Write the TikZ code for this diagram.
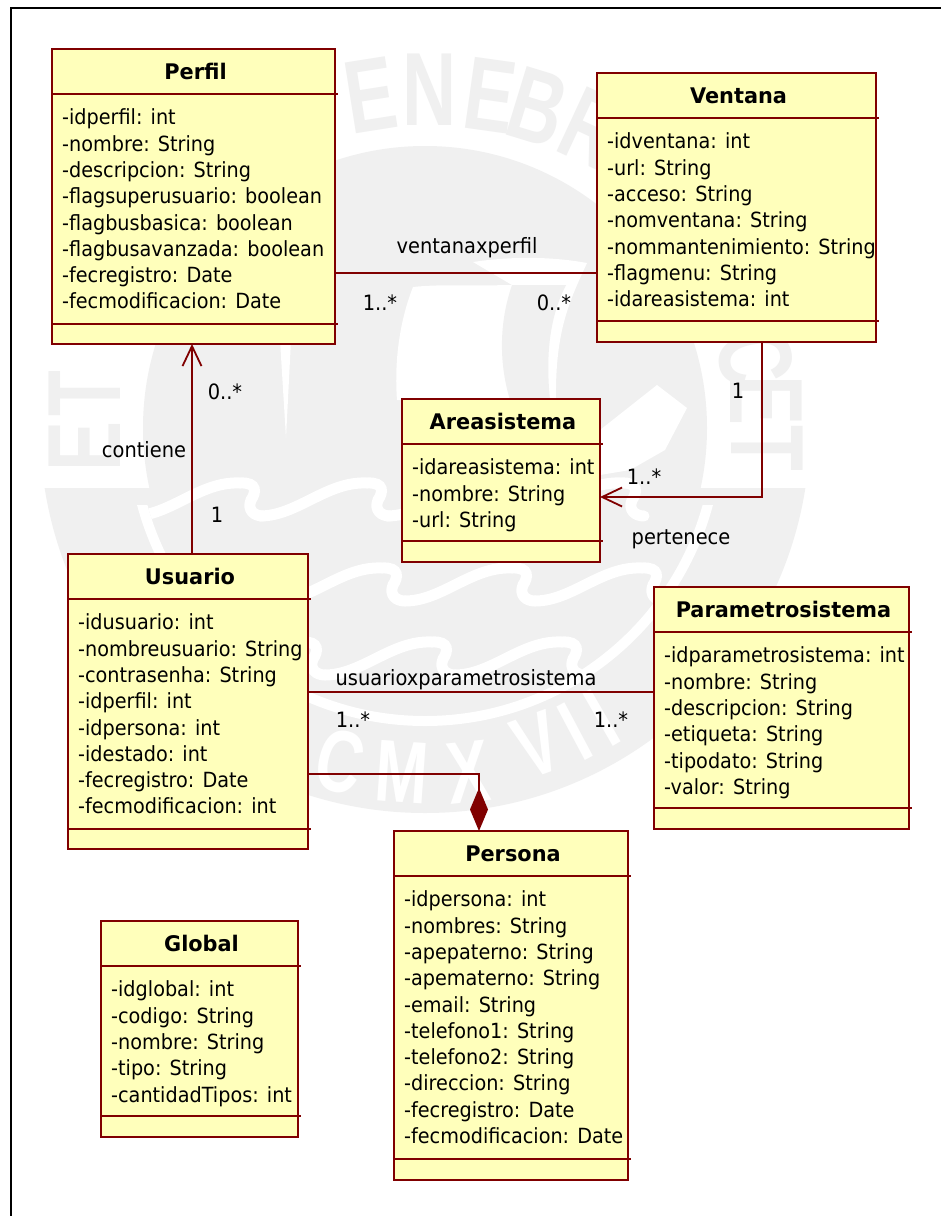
\documentclass[tikz,border=0pt]{standalone}
\usepackage{fontspec}
\setmainfont[FakeStretch=0.92,BoldFeatures={FakeStretch=0.97}]{DejaVu Sans}
\newfontfamily\wmfont[FakeStretch=0.72]{Liberation Sans}
\usetikzlibrary{arrows.meta,calc}
\definecolor{umlline}{HTML}{800000}
\definecolor{umlfill}{HTML}{FFFFBB}
\definecolor{wmgray}{HTML}{F0F0F0}
\tikzset{
  classbox/.style={draw=umlline,fill=umlfill,line width=1.8pt,inner sep=0pt,outer sep=0pt},
  classline/.style={draw=umlline,line width=1.8pt},
  classtitle/.style={font=\fontsize{21.5}{24}\selectfont\bfseries,inner sep=0pt,anchor=base},
  attr/.style={font=\fontsize{20.9}{24}\selectfont,inner sep=0pt,anchor=base west},
  lbl/.style={font=\fontsize{21.1}{24}\selectfont,inner sep=0pt,anchor=base},
  assoc/.style={draw=umlline,line width=1.8pt},
  openhead/.style={-{Straight Barb[length=20pt,width=19pt,line width=1.8pt]}},
  comphead/.style={-{Diamond[length=43pt,width=18pt,fill=umlline]}},
  wmo/.style={text=wmgray,font=\wmfont\bfseries\fontsize{104}{104}\selectfont,inner sep=0pt},
  wmi/.style={text=white,font=\wmfont\bfseries\fontsize{88}{88}\selectfont,inner sep=0pt},
  wave/.style={draw=white,line width=11pt,line cap=round}
}
% name x1 y1 x2 y2 sep1 sep2 title lines
\newcommand\umlclass[9]{%
  \node[classbox,minimum width={(#4-#2)*1pt},minimum height={(#5-#3)*1pt}] (#1) at ({(#2+#4)/2},{(#3+#5)/2}) {};
  \draw[classline] (#2,#6) -- ({#4+3},#6);
  \draw[classline] (#2,#7) -- ({#4+3},#7);
  \node[classtitle] (#1-title) at ({(#2+#4)/2+2},{#3+30}) {#8};
  \foreach \t [count=\i from 0] in {#9}{
    \node[attr] (#1-\i) at ({#2+10},{#6+30.8+\i*26.3}) {\t};
  }%
}
\begin{document}
\begin{tikzpicture}[x=1pt,y=-1pt]
\useasboundingbox (0,0) rectangle (941,1216);
\fill[white] (0,0) rectangle (941,1216);
% watermark
\coordinate (wmc) at (425,428);
\fill[wmgray] (wmc) circle[radius=282];
\begin{scope}
  \clip (0,488) rectangle (941,1216);
  \fill[wmgray] (wmc) circle[radius=385];
  \clip (0,505) rectangle (941,1216);
  \draw[white,line width=10pt] (wmc) circle[radius=293];
\end{scope}
\begin{scope}
  \clip (wmc) circle[radius=288];
  \foreach \cy/\xs in {483/{113,240,367,494,621},568/{122,252,382,512,642},642/{172,302,432,562,692}}{
    \foreach \cx in \xs {
      \draw[wave] ({\cx-107},{\cy+33}) .. controls ({\cx-70},{\cy+33}) and ({\cx-40},{\cy-2}) .. (\cx,\cy) .. controls ({\cx+18},{\cy-1}) and ({\cx+16},{\cy+10}) .. ({\cx+11},{\cy+17}) .. controls ({\cx+7},{\cy+27}) and ({\cx+14},{\cy+33}) .. ({\cx+23},{\cy+33});
    }
  }
\end{scope}
\fill[white] (473,262) .. controls (520,255) and (560,258) .. (587,263) .. controls (570,300) and (555,330) .. (556,400) -- (397,400) .. controls (394,360) and (400,320) .. (413,287) .. controls (440,284) and (470,286) .. (512,285) -- cycle;
\fill[wmgray] (512,285) .. controls (500,320) and (498,360) .. (510,400) -- (550,400) .. controls (546,360) and (548,320) .. (566,285) -- cycle;
\fill[white] (600,430) -- (657,385) -- (687,408) -- (665,450) -- (630,470) -- (600,475) -- cycle;
\fill[white] (280,340) -- (291,340) -- (286,438) -- cycle;
\foreach \px/\py/\r/\ch [count=\i] in {85/394/90/T,85/447/90/E,371/95/9/E,430/90/0/N,490/96/-8/E,538/107/-17/B,592/128/-25/R,755/358/-80/C,766/400/-90/E,767/448/-90/T}{
  \node[wmo,rotate=\r] (wm\i) at (\px,\py) {\ch};
}
\foreach \px/\py/\r/\ch [count=\i] in {340/762/-14/C,402/772/-4/M,468/772/6/X,537/745/20/V,575/732/28/I,602/718/30/I}{
  \node[wmi,rotate=\r] (wmb\i) at (\px,\py) {\ch};
}
% frame
\draw[black,line width=2pt] (11,1216) -- (11,8) -- (941,8);
% classes
\umlclass{perfil}{52}{49}{335}{344}{94}{324}{Perfil}{-idperfil: int,-nombre: String,-descripcion: String,-flagsuperusuario: boolean,-flagbusbasica: boolean,-flagbusavanzada: boolean,-fecregistro: Date,-fecmodificacion: Date}
\umlclass{ventana}{597}{73}{876}{342}{118}{321}{Ventana}{-idventana: int,-url: String,-acceso: String,-nomventana: String,-nommantenimiento: String,-flagmenu: String,-idareasistema: int}
\umlclass{area}{402}{399}{600}{562}{444}{541}{Areasistema}{-idareasistema: int,-nombre: String,-url: String}
\umlclass{usuario}{68}{554}{308}{849}{599}{829}{Usuario}{-idusuario: int,-nombreusuario: String,-contrasenha: String,-idperfil: int,-idpersona: int,-idestado: int,-fecregistro: Date,-fecmodificacion: int}
\umlclass{param}{654}{587}{909}{829}{632}{808}{Parametrosistema}{-idparametrosistema: int,-nombre: String,-descripcion: String,-etiqueta: String,-tipodato: String,-valor: String}
\umlclass{persona}{394}{831}{628}{1180}{876}{1159}{Persona}{-idpersona: int,-nombres: String,-apepaterno: String,-apematerno: String,-email: String,-telefono1: String,-telefono2: String,-direccion: String,-fecregistro: Date,-fecmodificacion: Date}
\umlclass{global}{101}{921}{298}{1137}{966}{1116}{Global}{-idglobal: int,-codigo: String,-nombre: String,-tipo: String,-cantidadTipos: int}
% connectors
\coordinate (r1) at (0,273);
\draw[assoc] (perfil.east |- r1) -- (ventana.west |- r1);
\coordinate (c2) at (192,450);
\draw[assoc,openhead] (c2 |- usuario.north) -- (c2 |- perfil.south);
\coordinate (c3) at (762,497);
\draw[assoc,openhead] (c3 |- ventana.south) -- (c3) -- (area.east |- c3);
\coordinate (r4) at (0,692);
\draw[assoc] (usuario.east |- r4) -- (param.west |- r4);
\coordinate (c5) at (479,774);
\draw[assoc,comphead] (usuario.east |- c5) -- (c5) -- (c5 |- persona.north);
% labels
\node[lbl] (l1) at (467,253) {ventanaxperfil};
\node[lbl] (l2) at (380,310) {1..*};
\node[lbl] (l3) at (554,310) {0..*};
\node[lbl] (l4) at (225,399) {0..*};
\node[lbl] (l5) at (144,457) {contiene};
\node[lbl] (l6) at (217,522) {1};
\node[lbl] (l7) at (738,398) {1};
\node[lbl] (l8) at (644,484) {1..*};
\node[lbl] (l9) at (681,544) {pertenece};
\node[lbl] (l10) at (466,685) {usuarioxparametrosistema};
\node[lbl] (l11) at (353,727) {1..*};
\node[lbl] (l12) at (611,727) {1..*};
\end{tikzpicture}
\end{document}
